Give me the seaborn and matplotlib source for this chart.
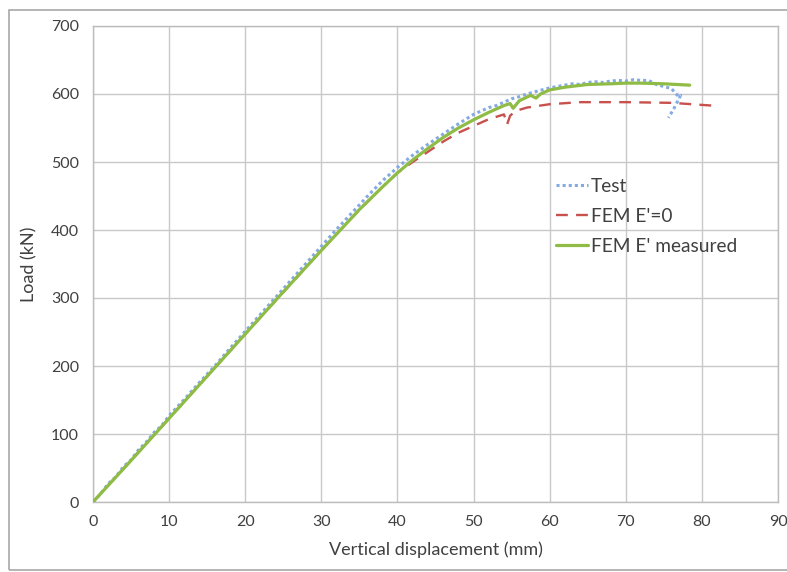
import matplotlib
matplotlib.use('Agg')
import matplotlib.pyplot as plt
import seaborn as sns
import pandas as pd
from matplotlib.patches import Rectangle

# Test curve (blue dotted)
test_x = [0, 1, 2, 3, 4, 5, 6, 7, 8, 9, 10, 12, 14, 16, 18, 20, 22, 24, 26, 28, 30,
          32, 34, 36, 38, 40, 42, 44, 46, 48, 50, 51, 52, 53, 54, 55, 56, 57, 58, 59,
          60, 61, 62, 63, 64, 65, 66, 67, 68, 69, 70, 71, 72, 73, 74, 75, 76, 76.9,
          77.2, 76.9, 76.3, 75.6]
test_y = [0, 12, 27, 37, 52, 62, 77, 88, 102, 112, 127, 151, 176, 200, 226, 251, 276,
          301, 326, 351, 376, 401, 425, 449, 472, 492, 510, 526, 541, 556, 570, 575,
          580, 583, 588, 593, 596, 600, 603, 606, 609, 611, 613, 615, 614, 617, 618,
          617, 619, 620, 619, 621, 620, 620, 614, 611, 608, 605, 598, 588, 578, 565]

# FEM E'=0 (red dashed)
fem0_x = [0, 10, 20, 30, 35, 38, 40, 42, 44, 46, 48, 50, 52, 54, 54.4, 54.8, 55.5,
          57, 60, 64, 70, 76, 81.3]
fem0_y = [0, 123, 247, 370, 430, 463, 484, 500, 515, 530, 543, 553, 563, 570, 555,
          568, 575, 580, 585, 588, 588, 587, 583]

# FEM E' measured (green solid)
femm_x = [0, 5, 10, 15, 20, 25, 30, 35, 38, 40, 42, 44, 46, 48, 50, 52, 54, 54.8,
          55.2, 56, 57.5, 58.2, 58.8, 60, 62, 65, 68, 70, 72, 75, 78.4]
femm_y = [0, 61, 123, 185, 247, 309, 370, 430, 463, 484, 503, 520, 536, 550, 562,
          573, 583, 586, 579, 590, 598, 594, 600, 606, 610, 614, 615, 616, 616, 615, 613]

x_ticks = list(range(0, 91, 10))
y_ticks = list(range(0, 701, 100))

sns.set_style('white')
plt.rcParams['font.family'] = ['Lato', 'DejaVu Sans']

fig = plt.figure(figsize=(7.87, 5.72), dpi=100)
ax = fig.add_axes([93 / 787, 1 - 502 / 572, 685 / 787, 476 / 572])

# outer chart border
fig.patches.append(Rectangle((9 / 787, 2 / 572), 1.0, 1 - 12 / 572, transform=fig.transFigure,
                             fill=False, edgecolor='#a8a8a8', linewidth=1.2, zorder=0))

test_df = pd.DataFrame({'x': test_x, 'y': test_y})
fem0_df = pd.DataFrame({'x': fem0_x, 'y': fem0_y})
femm_df = pd.DataFrame({'x': femm_x, 'y': femm_y})

sns.lineplot(data=test_df, x='x', y='y', sort=False, ax=ax, color='#84aae3',
             linewidth=2.2, linestyle=(0, (1, 1)), label='Test', zorder=4)
sns.lineplot(data=fem0_df, x='x', y='y', sort=False, ax=ax, color='#c8504d',
             linewidth=1.7, linestyle=(0, (5, 3.5)), label="FEM E'=0", zorder=3)
sns.lineplot(data=femm_df, x='x', y='y', sort=False, ax=ax, color='#8fbc45',
             linewidth=2.3, label="FEM E' measured", zorder=5)

ax.set_xlim(0, 90)
ax.set_ylim(0, 700)
ax.set_xticks(x_ticks)
ax.set_yticks(y_ticks)
ax.grid(True, color='#c8c8c8', linewidth=1)
ax.set_axisbelow(True)
for s in ax.spines.values():
    s.set_color('#bcbcbc')
    s.set_linewidth(1)
ax.tick_params(length=0, labelsize=11.5, colors='#404040', pad=9)
ax.tick_params(axis='y', pad=10)

ax.set_xlabel('Vertical displacement (mm)', fontsize=13, color='#404040', labelpad=9)
ax.set_ylabel('Load (kN)', fontsize=13, color='#404040', labelpad=10)

ax.legend(loc='center left', bbox_to_anchor=(0.676, 0.6), frameon=False,
          fontsize=13.8, handlelength=1.65, handletextpad=0.15, labelspacing=0.68,
          borderpad=0, borderaxespad=0, labelcolor='#404040')

plt.savefig('out.png', dpi=100)
plt.close()
